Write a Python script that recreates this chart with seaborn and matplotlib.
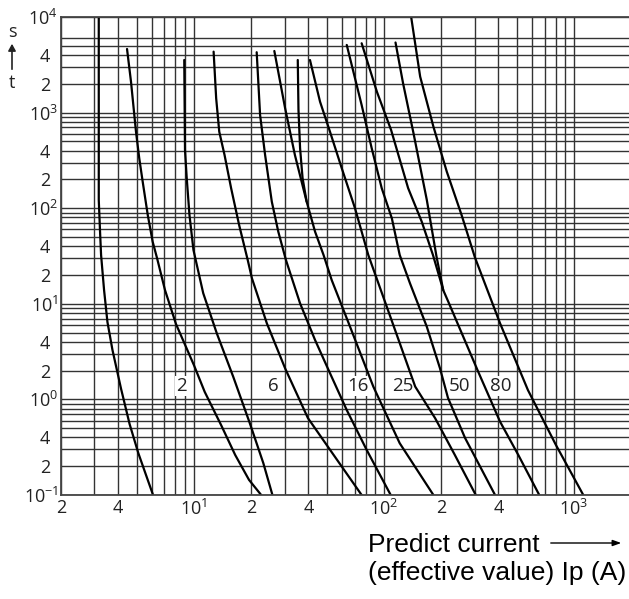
import numpy as np
import pandas as pd
import seaborn as sns
import matplotlib.pyplot as plt
from matplotlib.ticker import FixedLocator, FuncFormatter

# time-current curves (current in A, time in s)
i_a = [3.16, 3.16, 3.21, 3.25, 3.37, 3.51, 3.73, 4.14, 4.59, 5.10, 5.60, 6.10]
t_a = [10000, 122, 56.4, 32.4, 13.9, 6.45, 3.29, 1.29, 0.553, 0.275, 0.162, 0.1]
i_b = [4.45, 4.67, 4.96, 5.16, 5.38, 5.72, 6.07, 6.40, 7.05, 8.05, 10.0, 11.4, 13.9, 16.5, 19.5, 22.6]
t_b = [4630, 2100, 631, 333, 189, 84.9, 44.6, 30.1, 13.9, 6.15, 2.29, 1.20, 0.540, 0.262, 0.144, 0.1]
i_c = [8.90, 8.98, 9.17, 9.48, 9.95, 11.2, 13.2, 16.1, 19.7, 23.2, 25.9]
t_c = [3550, 406, 207, 84.9, 36.5, 12.9, 4.91, 1.73, 0.562, 0.215, 0.1]
i_d = [12.7, 13.1, 13.6, 14.5, 15.7, 17.3, 19.2, 20.2, 24.2, 30.3, 39.8, 52.6, 76.3]
t_d = [4340, 1410, 631, 360, 162, 66.7, 28.7, 18.5, 6.25, 2.08, 0.638, 0.288, 0.1]
i_e = [21.4, 22.3, 23.7, 25.7, 27.8, 30.5, 36.2, 43.4, 52.0, 63.7, 81.1, 108.5]
t_e = [4280, 944, 360, 117, 56.8, 28.7, 10.1, 4.18, 1.88, 0.774, 0.296, 0.1]
i_f = [26.5, 30.2, 34.0, 39.2, 43.4, 48.1, 53.1, 66.3, 87.9, 121, 182]
t_f = [4410, 1110, 360, 117, 56.8, 32.4, 17.7, 5.76, 1.36, 0.348, 0.1]
i_g = [35.2, 35.5, 36.2, 37.3, 39.2]
t_g = [3550, 1070, 423, 207, 117]
i_h = [40.8, 46.1, 52.0, 60.0, 70.4, 82.7, 108, 146, 186, 236, 304]
t_h = [3550, 1300, 631, 261, 99.8, 32.4, 7.33, 1.36, 0.634, 0.262, 0.1]
i_i = [63.7, 76.3, 86.2, 97.3, 110, 121, 137, 168, 197, 217, 267, 384]
t_i = [5100, 1200, 423, 162, 78.4, 32.4, 16.4, 5.76, 2.12, 1.04, 0.395, 0.1]
i_j = [76.3, 91.9, 109, 134, 158, 181, 205, 218, 313, 408, 509, 656]
t_j = [5310, 1640, 658, 162, 72.3, 32.4, 13.9, 10.5, 1.95, 0.585, 0.262, 0.1]
i_k = [115, 126, 143, 168, 189, 205]
t_k = [5410, 2030, 608, 122, 31.1, 13.9]
i_l = [139, 155, 182, 214, 256, 301, 408, 572, 803, 1118]
t_l = [10000, 2380, 712, 241, 84.9, 30.5, 6.25, 1.25, 0.333, 0.1]

# rating labels written inside the chart
label_text = ['2', '6', '16', '25', '50', '80']
label_i = [8.56, 26.1, 72.6, 126, 251, 413]
label_t = [1.38, 1.38, 1.38, 1.38, 1.38, 1.38]

# grid / tick positions
x_grid = [m * 10 ** e for e in range(0, 3) for m in range(1, 10)][2:] + [1000]
y_grid = [m * 10 ** e for e in range(-1, 3) for m in range(1, 10)] + [1000, 2000, 3000, 4000, 5000, 6000]
x_major = [10, 100, 1000]
y_major = [0.1, 1, 10, 100, 1000, 10000]

curves = [(i_a, t_a), (i_b, t_b), (i_c, t_c), (i_d, t_d), (i_e, t_e), (i_f, t_f),
          (i_g, t_g), (i_h, t_h), (i_i, t_i), (i_j, t_j), (i_k, t_k), (i_l, t_l)]
df = pd.concat([pd.DataFrame({'current': c, 'time': t, 'fuse': n})
                for n, (c, t) in enumerate(curves)], ignore_index=True)

sns.set_style('white')
plt.rcParams['font.family'] = ['Open Sans', 'DejaVu Sans']

fig = plt.figure(figsize=(6.29, 5.99), dpi=100)
ax = fig.add_axes([61 / 629, 1 - 495 / 599, 568 / 629, 478 / 599])

sns.lineplot(data=df, x='current', y='time', units='fuse', estimator=None, sort=False,
             color='black', lw=1.6, ax=ax, zorder=2)
ax.set_xscale('log')
ax.set_yscale('log')
ax.set_xlim(2, 1945)
ax.set_ylim(0.1, 10000)
ax.set(xlabel='', ylabel='')


def major_fmt(v, pos):
    return r'$\mathregular{10^{%d}}$' % round(np.log10(v))


def minor_fmt(v, pos):
    m = round(v / 10 ** np.floor(np.log10(v) + 1e-9))
    return str(m) if m in (2, 4) else ''


for axis, major, minor in ((ax.xaxis, x_major, [2] + x_grid), (ax.yaxis, y_major, y_grid)):
    axis.set_major_locator(FixedLocator(major))
    axis.set_minor_locator(FixedLocator([v for v in minor if v not in major]))
    axis.set_major_formatter(FuncFormatter(major_fmt))
    axis.set_minor_formatter(FuncFormatter(minor_fmt))

ax.tick_params(which='both', length=0, labelsize=13, colors='#222222')
ax.tick_params(axis='y', which='major', pad=2)
ax.tick_params(axis='y', which='minor', pad=8)
ax.tick_params(axis='x', which='both', pad=3)
ax.set_axisbelow(True)
ax.grid(which='both', color='#333333', lw=1.0)

for s in ['left', 'bottom', 'top']:
    ax.spines[s].set_color('#444444')
    ax.spines[s].set_linewidth(1.3)
ax.spines['right'].set_visible(False)

for txt, ci, ti in zip(label_text, label_i, label_t):
    ax.text(ci, ti, txt, ha='center', va='center', fontsize=13.5, color='#222222', zorder=1.8,
            bbox=dict(facecolor='white', edgecolor='none', pad=0.6))

# axis caption for time
fig.text(12 / 629, 1 - 32 / 599, 's', ha='center', va='center', fontsize=13, color='#222222')
fig.text(12 / 629, 1 - 83 / 599, 't', ha='center', va='center', fontsize=13, color='#222222')
fig.add_artist(plt.matplotlib.patches.FancyArrowPatch(
    (12 / 629, 1 - 72 / 599), (12 / 629, 1 - 41 / 599), transform=fig.transFigure,
    arrowstyle='-|>,head_length=4,head_width=2.2', color='#222222', lw=1.2))

# current caption
fig.text(368 / 629, 1 - 552 / 599, 'Predict current', ha='left', va='baseline',
         fontsize=19, family='Liberation Sans', color='black')
fig.text(368 / 629, 1 - 580 / 599, '(effective value) Ip (A)', ha='left', va='baseline',
         fontsize=19, family='Liberation Sans', color='black')
fig.add_artist(plt.matplotlib.patches.FancyArrowPatch(
    (548 / 629, 1 - 543 / 599), (624 / 629, 1 - 543 / 599), transform=fig.transFigure,
    arrowstyle='-|>,head_length=5,head_width=1.8', color='black', lw=1.0))

fig.savefig('out.png', dpi=100)
